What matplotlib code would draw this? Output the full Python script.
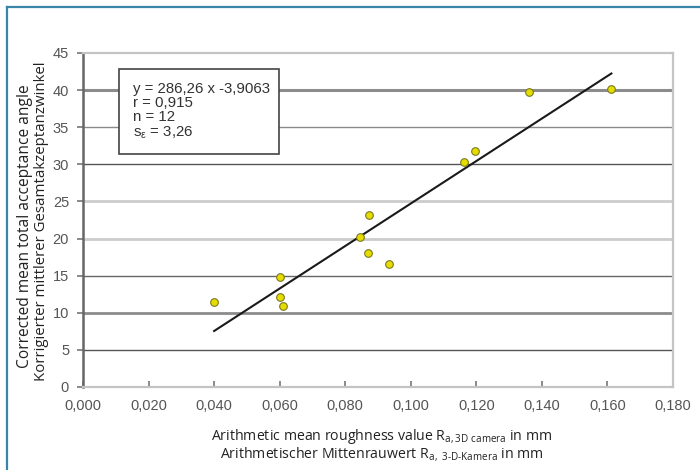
import numpy as np
import matplotlib
matplotlib.use("Agg")
import matplotlib.pyplot as plt
from matplotlib.lines import Line2D
from matplotlib.patches import Rectangle

# ---------------------------------------------------------------------------
# Data
# ---------------------------------------------------------------------------
ra_camera = [0.040, 0.060, 0.060, 0.061, 0.0846, 0.087, 0.0873, 0.0934,
             0.1163, 0.1197, 0.1362, 0.1612]
angle = [11.4, 14.8, 12.1, 10.9, 20.2, 18.1, 23.2, 16.6,
         30.3, 31.8, 39.8, 40.1]

slope, intercept = 286.26, -3.9063
fit_x = [0.040, 0.1612]

stats_lines = ["y = 286,26 x -3,9063", "r = 0,915", "n = 12",
               r"s$_\mathregular{\epsilon}$ = 3,26"]

x_ticks = [0.000, 0.020, 0.040, 0.060, 0.080, 0.100, 0.120, 0.140, 0.160, 0.180]
y_ticks = [0, 5, 10, 15, 20, 25, 30, 35, 40, 45]

# ---------------------------------------------------------------------------
# Figure
# ---------------------------------------------------------------------------
plt.rcParams["mathtext.fontset"] = "custom"
plt.rcParams["mathtext.rm"] = "Open Sans"

fig = plt.figure(figsize=(7.0, 4.7), dpi=100)
ax = fig.add_axes([83 / 700, 1 - 387 / 470, 590 / 700, 334 / 470])

# outer frame (left and top edges only)
frame_col = "#3a86a8"
fig.add_artist(Line2D([7 / 700, 7 / 700], [0, 1 - 7 / 470],
                      transform=fig.transFigure, color=frame_col, lw=1.6))
fig.add_artist(Line2D([7 / 700, 1], [1 - 7 / 470, 1 - 7 / 470],
                      transform=fig.transFigure, color=frame_col, lw=1.6))

# horizontal grid lines (mixed greys as in the original)
grid_style = {5: ("#555555", 1.0), 10: ("#8c8c8c", 2.0), 15: ("#666666", 1.0),
              20: ("#cccccc", 2.0), 25: ("#cccccc", 2.0), 30: ("#555555", 1.0),
              35: ("#8a8a8a", 1.0), 40: ("#8c8c8c", 2.2)}
for yv, (c, lw) in grid_style.items():
    ax.axhline(yv, color=c, lw=lw, zorder=1)

# regression line
fx = np.array(fit_x)
ax.plot(fx, slope * fx + intercept, color="#1a1a1a", lw=1.5, zorder=3)

# data points
ax.plot(ra_camera, angle, "o", ms=5.5, mfc="#e6dc00", mec="#7a7a20",
        mew=0.8, zorder=4)

# statistics box
ax.add_patch(Rectangle((0.061, 0.698), 0.271, 0.254, transform=ax.transAxes,
                       facecolor="white", edgecolor="#444444", lw=1.2,
                       zorder=5))
ax.text(0.085, 0.912, "\n".join(stats_lines), transform=ax.transAxes,
        ha="left", va="top", fontsize=10.8, family="Liberation Sans",
        color="#333333", linespacing=1.0, zorder=6)

# axes
ax.set_xlim(0, 0.180)
ax.set_ylim(0, 45)
ax.set_xticks(x_ticks)
ax.set_xticklabels([f"{v:.3f}".replace(".", ",") for v in x_ticks])
ax.set_yticks(y_ticks)
ax.set_yticklabels([str(v) for v in y_ticks])
ax.tick_params(axis="both", labelsize=10.5, labelcolor="#555555",
               colors="#777777", length=4, width=1.2)
ax.tick_params(axis="x", direction="in", pad=9)
ax.tick_params(axis="y", direction="out", pad=6)
for lab in ax.get_xticklabels() + ax.get_yticklabels():
    lab.set_family("Liberation Sans")

ax.spines["left"].set_color("#666666")
ax.spines["left"].set_linewidth(1.8)
for s in ("top", "right", "bottom"):
    ax.spines[s].set_color("#c4c4c4")
    ax.spines[s].set_linewidth(1.6)

lab_kw = dict(family="Open Sans", color="#222222", ha="center", va="center")
fig.text(382 / 700, 1 - 437 / 470,
         r"Arithmetic mean roughness value R$_\mathregular{a,3D\ camera}$ in mm",
         fontsize=10.2, **lab_kw)
fig.text(382 / 700, 1 - 454 / 470,
         r"Arithmetischer Mittenrauwert R$_\mathregular{a,\ 3\text{-}D\text{-}Kamera}$ in mm",
         fontsize=10.2, **lab_kw)
fig.text(25 / 700, 1 - 226 / 470, "Corrected mean total acceptance angle",
         rotation=90, fontsize=11.2, **lab_kw)
fig.text(42 / 700, 1 - 221 / 470, "Korrigierter mittlerer Gesamtakzeptanzwinkel",
         rotation=90, fontsize=10.8, **lab_kw)

fig.savefig("out.png", dpi=100)
